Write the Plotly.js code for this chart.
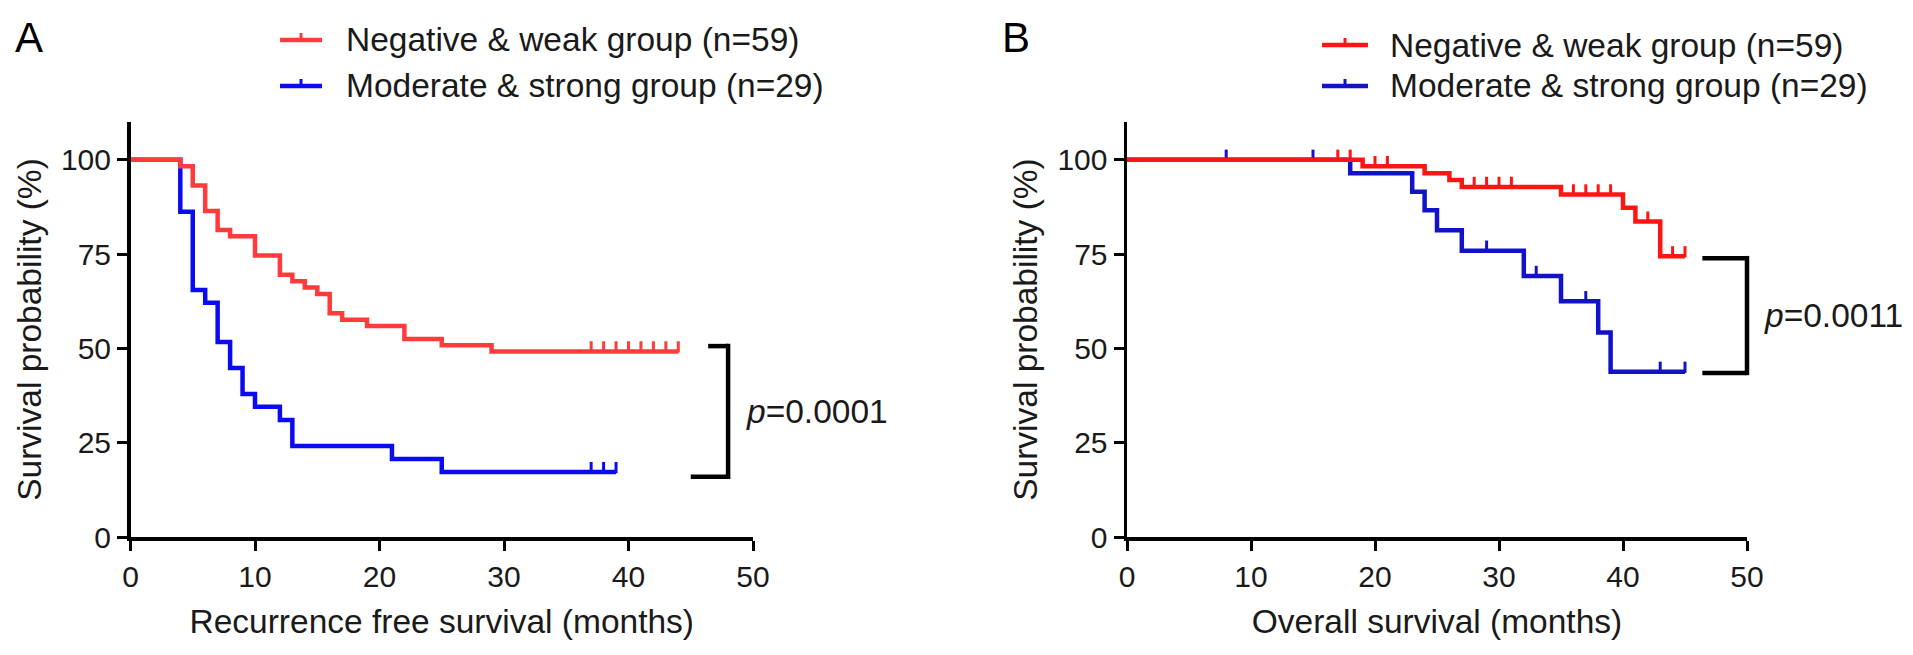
<!DOCTYPE html>
<html><head><meta charset="utf-8">
<script src="https://cdn.plot.ly/plotly-3.0.1.min.js"></script>
<style>html,body{margin:0;padding:0;background:#fff}#chart{width:1913px;height:655px}</style>
</head><body><div id="chart"></div>
<script>
// ---------- DATA ----------
// Panel A: Recurrence free survival
const rfsRedTime   = [0, 4, 5, 6, 7, 8, 10, 12, 13, 14, 15, 16, 17, 19, 22, 25, 29, 44];
const rfsRedSurv   = [100, 98.3, 93.2, 86.4, 81.4, 79.7, 74.6, 69.5, 67.8, 66.1, 64.4, 59.3, 57.6, 55.9, 52.5, 50.8, 49.2, 49.2];
const rfsRedCensor = [37, 38, 39, 40, 41, 42, 43, 44];
const rfsBlueTime   = [0, 4, 5, 6, 7, 8, 9, 10, 12, 13, 21, 25, 39];
const rfsBlueSurv   = [100, 86.2, 65.5, 62.1, 51.7, 44.8, 37.9, 34.5, 31.0, 24.1, 20.7, 17.2, 17.2];
const rfsBlueCensor = [37, 38, 39];
// Panel B: Overall survival
const osRedTime   = [0, 19, 24, 26, 27, 35, 40, 41, 43, 45];
const osRedSurv   = [100, 98.3, 96.4, 94.6, 92.8, 90.8, 87.3, 83.6, 74.4, 74.4];
const osRedCensor = [17, 18, 20, 21, 28, 29, 30, 31, 36, 37, 38, 39, 42, 44, 45];
const osBlueTime   = [0, 18, 23, 24, 25, 27, 32, 35, 38, 39, 45];
const osBlueSurv   = [100, 96.4, 91.5, 86.6, 81.3, 75.9, 69.2, 62.5, 54.2, 43.8, 43.8];
const osBlueCensor = [8, 15, 29, 33, 37, 43, 45];

const groupNames = ['Negative & weak group (n=59)', 'Moderate & strong group (n=29)'];
const xTicks = [0, 10, 20, 30, 40, 50];
const yTicks = [0, 25, 50, 75, 100];
const pValues = ['0.0001', '0.0011'];
const xTitles = ['Recurrence free survival (months)', 'Overall survival (months)'];
const yTitle = 'Survival probability (%)';
const panelLabels = ['A', 'B'];

// ---------- STYLE ----------
const W = 1913, H = 655;
const FONT = 'Liberation Sans, Arial, Helvetica, sans-serif';
const TXT = '#1a1a1a';
const colA = {red: '#FF3B3B', blue: '#0A0AF5'};
const colB = {red: '#FF1414', blue: '#1212C8'};
const XMAX = 50, YMAX = 110;
const LW = 4.5;
const TICKF = 30, TITLEF = 33.5;

function stepValue(times, surv, t) {
  let v = surv[0];
  for (let i = 0; i < times.length; i++) if (times[i] <= t) v = surv[i];
  return v;
}
function curve(times, surv, color, xa, ya, name) {
  return {x: times, y: surv, xaxis: xa, yaxis: ya, type: 'scatter', mode: 'lines', name: name,
    line: {shape: 'hv', color: color, width: LW}, showlegend: false, hoverinfo: 'skip'};
}
function censor(times, surv, cens, color, xa, ya) {
  return {x: cens, y: cens.map(t => stepValue(times, surv, t) + 1.2), xaxis: xa, yaxis: ya,
    type: 'scatter', mode: 'markers', cliponaxis: false, showlegend: false, hoverinfo: 'skip',
    marker: {symbol: 'line-ns', size: 8, line: {color: color, width: 3}}};
}

const data = [
  curve(rfsBlueTime, rfsBlueSurv, colA.blue, 'x', 'y', groupNames[1]),
  censor(rfsBlueTime, rfsBlueSurv, rfsBlueCensor, colA.blue, 'x', 'y'),
  curve(rfsRedTime, rfsRedSurv, colA.red, 'x', 'y', groupNames[0]),
  censor(rfsRedTime, rfsRedSurv, rfsRedCensor, colA.red, 'x', 'y'),
  curve(osBlueTime, osBlueSurv, colB.blue, 'x2', 'y2', groupNames[1]),
  censor(osBlueTime, osBlueSurv, osBlueCensor, colB.blue, 'x2', 'y2'),
  curve(osRedTime, osRedSurv, colB.red, 'x2', 'y2', groupNames[0]),
  censor(osRedTime, osRedSurv, osRedCensor, colB.red, 'x2', 'y2')
];

const yDom = [(H - 537) / H, (H - 122) / H];
function xAxis(dom, title, anchor) {
  return {domain: dom, anchor: anchor, range: [0, XMAX], tickvals: xTicks, ticktext: xTicks.map(String),
    showline: true, linecolor: '#000', linewidth: 3.5, ticks: 'outside', ticklen: 10, tickwidth: 3, tickcolor: '#000',
    showgrid: false, zeroline: false, automargin: false, fixedrange: true,
    tickfont: {family: FONT, size: TICKF, color: TXT},
    title: {text: title, font: {family: FONT, size: TITLEF, color: TXT}, standoff: 19}};
}
function yAxis(anchor) {
  return {domain: yDom, anchor: anchor, range: [0, YMAX], tickvals: yTicks, ticktext: yTicks.map(String),
    showline: true, linecolor: '#000', linewidth: 3.5, ticks: 'outside', ticklen: 10, tickwidth: 3, tickcolor: '#000',
    showgrid: false, zeroline: false, automargin: false, fixedrange: true,
    tickfont: {family: FONT, size: TICKF, color: TXT},
    title: {text: yTitle, font: {family: FONT, size: TITLEF, color: TXT}, standoff: 10}};
}

const domA = [130.5 / W, 753 / W], domB = [1127 / W, 1747 / W];
const shapes = [], annotations = [];

// brackets + p values
function bracket(xr, yr, redS, blueS, topStart, botStart, vertX, pText, pX, offTop, offBot) {
  const top = redS[redS.length - 1] + offTop, bot = blueS[blueS.length - 1] + offBot;
  const ln = {color: '#000', width: 4.5};
  shapes.push({type: 'line', xref: xr + ' domain', yref: yr, x0: topStart / XMAX, x1: vertX / XMAX, y0: top, y1: top, line: ln});
  shapes.push({type: 'line', xref: xr + ' domain', yref: yr, x0: botStart / XMAX, x1: vertX / XMAX, y0: bot, y1: bot, line: ln});
  shapes.push({type: 'line', xref: xr + ' domain', yref: yr, x0: vertX / XMAX, x1: vertX / XMAX, y0: top + 0.6, y1: bot - 0.6, line: ln});
  annotations.push({xref: xr + ' domain', yref: yr, x: pX / XMAX, y: (top + bot) / 2, xanchor: 'left', yanchor: 'middle',
    showarrow: false, text: '<i>p</i>=' + pText, font: {family: FONT, size: TITLEF, color: TXT}});
}
bracket('x', 'y', rfsRedSurv, rfsBlueSurv, 46.4, 45.0, 48.0, pValues[0], 49.3, 1.4, -1.2);
bracket('x2', 'y2', osRedSurv, osBlueSurv, 46.4, 46.4, 50.0, pValues[1], 51.2, -0.5, -0.3);

// panel labels
annotations.push({xref: 'paper', yref: 'paper', x: 13 / W, y: 1 - 37 / H, xanchor: 'left', yanchor: 'middle', showarrow: false,
  text: panelLabels[0], font: {family: FONT, size: 42, color: '#000'}});
annotations.push({xref: 'paper', yref: 'paper', x: 1000 / W, y: 1 - 37 / H, xanchor: 'left', yanchor: 'middle', showarrow: false,
  text: panelLabels[1], font: {family: FONT, size: 42, color: '#000'}});

// legends (drawn as keys)
function legendItem(x0, x1, y, color, label, tx) {
  shapes.push({type: 'line', xref: 'paper', yref: 'paper', x0: x0 / W, x1: x1 / W, y0: 1 - y / H, y1: 1 - y / H, line: {color: color, width: LW}});
  const xm = (x0 + x1) / 2;
  shapes.push({type: 'line', xref: 'paper', yref: 'paper', x0: xm / W, x1: xm / W, y0: 1 - y / H, y1: 1 - (y - 7) / H, line: {color: color, width: 3}});
  annotations.push({xref: 'paper', yref: 'paper', x: tx / W, y: 1 - y / H, xanchor: 'left', yanchor: 'middle', showarrow: false,
    text: label, font: {family: FONT, size: TITLEF, color: TXT}});
}
legendItem(280, 322, 40, colA.red, groupNames[0], 344);
legendItem(280, 322, 86, colA.blue, groupNames[1], 344);
legendItem(1322, 1368, 45, colB.red, groupNames[0], 1388);
legendItem(1322, 1368, 86, colB.blue, groupNames[1], 1388);

const layout = {
  width: W, height: H, margin: {l: 0, r: 0, t: 0, b: 0},
  paper_bgcolor: '#fff', plot_bgcolor: '#fff', showlegend: false,
  font: {family: FONT, color: TXT},
  xaxis: xAxis(domA, xTitles[0], 'y'), yaxis: yAxis('x'),
  xaxis2: xAxis(domB, xTitles[1], 'y2'), yaxis2: yAxis('x2'),
  shapes: shapes, annotations: annotations
};

Plotly.newPlot('chart', data, layout, {staticPlot: true, displayModeBar: false});
</script></body></html>
